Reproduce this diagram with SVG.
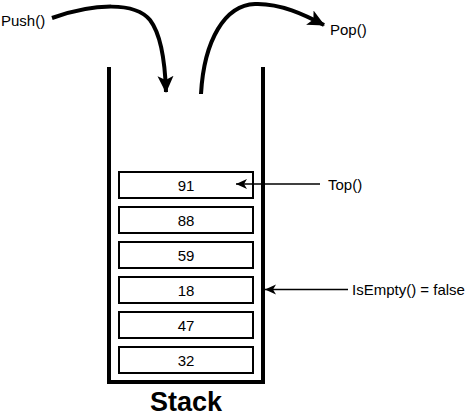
<svg xmlns="http://www.w3.org/2000/svg" width="474" height="418" viewBox="0 0 474 418">
<style>
text{font-family:"Liberation Sans",Arial,sans-serif;fill:#000}
.lbl{font-size:15px;dominant-baseline:central}
.num{font-size:15px;text-anchor:middle;dominant-baseline:central}
.box{fill:#fff;stroke:#000;stroke-width:2}
.big{fill:none;stroke:#000;stroke-width:4}
.thin{fill:none;stroke:#000;stroke-width:1.5}
</style>
<defs>
<marker id="bigArrow" markerUnits="userSpaceOnUse" viewBox="0 0 18 18" markerWidth="18" markerHeight="18" refX="16" refY="9" orient="auto">
<path d="M0,1 L17,9 L0,17 L4,9 Z" fill="#000"/>
</marker>
<marker id="smallArrow" markerUnits="userSpaceOnUse" viewBox="0 0 12 12" markerWidth="12" markerHeight="12" refX="11" refY="6" orient="auto">
<path d="M0,1 L11,6 L0,11 L3,6 Z" fill="#000"/>
</marker>
</defs>
<g id="container">
<path d="M109,67 V382 H263 V67" fill="none" stroke="#000" stroke-width="4"/>
</g>
<g id="n91"><rect class="box" x="119" y="172" width="134" height="26"/><text class="num" x="186" y="185">91</text></g>
<g id="n88"><rect class="box" x="119" y="207" width="134" height="26"/><text class="num" x="186" y="220">88</text></g>
<g id="n59"><rect class="box" x="119" y="242" width="134" height="26"/><text class="num" x="186" y="255">59</text></g>
<g id="n18"><rect class="box" x="119" y="277" width="134" height="26"/><text class="num" x="186" y="290">18</text></g>
<g id="n47"><rect class="box" x="119" y="312" width="134" height="26"/><text class="num" x="186" y="325">47</text></g>
<g id="n32"><rect class="box" x="119" y="347" width="134" height="26"/><text class="num" x="186" y="360">32</text></g>
<g id="push"><text class="lbl" x="1" y="20">Push()</text></g>
<g id="pop"><text class="lbl" x="330" y="29">Pop()</text></g>
<g id="top"><text class="lbl" x="328" y="184">Top()</text></g>
<g id="isempty"><text class="lbl" x="352" y="289">IsEmpty() = false</text></g>
<g id="stackLabel"><text x="186" y="411" font-size="27" font-weight="bold" text-anchor="middle">Stack</text></g>
<g id="connectors">
<path class="big" d="M52,18 C95,3 135,2 150,20 C160,33 165,60 166,92" marker-end="url(#bigArrow)"/>
<path class="big" d="M201,94 C204,40 225,5 255,4 C280,3 305,15 324,25" marker-end="url(#bigArrow)"/>
<path class="thin" d="M320,184 H236" marker-end="url(#smallArrow)"/>
<path class="thin" d="M348,289.5 H265" marker-end="url(#smallArrow)"/>
</g>
</svg>
